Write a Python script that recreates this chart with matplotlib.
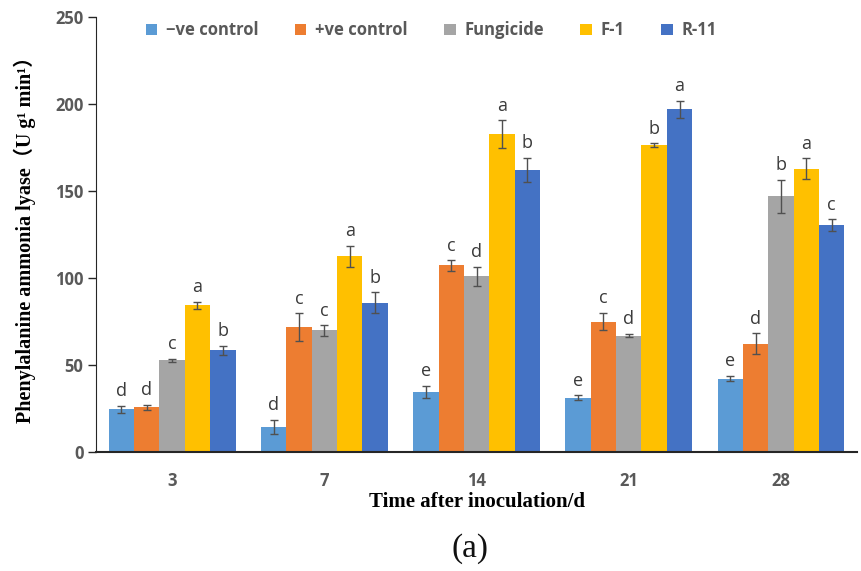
import numpy as np
import matplotlib.pyplot as plt

days = ["3", "7", "14", "21", "28"]
groups = ["\u2212ve control", "+ve control", "Fungicide", "F-1", "R-11"]
colors = ["#5B9BD5", "#ED7D31", "#A5A5A5", "#FFC000", "#4472C4"]

neg_ctrl = [24.5, 14.4, 34.3, 31.0, 42.0]
pos_ctrl = [25.5, 71.5, 107.2, 74.8, 62.0]
fungicide = [52.5, 69.8, 100.8, 66.8, 147.0]
f1 = [84.3, 112.5, 182.7, 176.5, 162.7]
r11 = [58.3, 85.8, 162.0, 197.0, 130.3]

neg_err = [2.0, 4.0, 3.5, 1.5, 1.5]
pos_err = [1.5, 8.0, 3.0, 5.0, 6.0]
fung_err = [1.0, 3.0, 5.5, 1.0, 9.5]
f1_err = [2.0, 6.0, 8.0, 1.0, 6.0]
r11_err = [2.5, 6.0, 7.0, 5.0, 3.5]

neg_let = ["d", "d", "e", "e", "e"]
pos_let = ["d", "c", "c", "c", "d"]
fung_let = ["c", "c", "d", "d", "b"]
f1_let = ["a", "a", "a", "b", "a"]
r11_let = ["b", "b", "b", "a", "c"]

values = [neg_ctrl, pos_ctrl, fungicide, f1, r11]
errors = [neg_err, pos_err, fung_err, f1_err, r11_err]
letters = [neg_let, pos_let, fung_let, f1_let, r11_let]

fig = plt.figure(figsize=(8.61, 5.71), dpi=100)
ax = fig.add_axes([0.1115, 0.209, 0.884, 0.761])

x = np.arange(len(days))
w = 1 / 6
for i in range(5):
    pos = x + (i - 2) * w
    ax.bar(pos, values[i], w, color=colors[i], label=groups[i],
           yerr=errors[i], capsize=3,
           error_kw=dict(ecolor="#505050", elinewidth=1, capthick=1))
    for p, v, e, t in zip(pos, values[i], errors[i], letters[i]):
        ax.annotate(t, (p, v + e), xytext=(0, 4), textcoords="offset points",
                    ha="center", va="bottom", fontsize=13,
                    color="#3a3a3a", family="Open Sans")

ax.set_xlim(-0.5, len(days) - 0.5)
ax.set_ylim(0, 250)
ax.set_yticks([0, 50, 100, 150, 200, 250])
ax.set_xticks(x)
ax.set_xticklabels(days)
for lab in ax.get_xticklabels() + ax.get_yticklabels():
    lab.set_family("Open Sans")
    lab.set_fontweight("bold")
    lab.set_fontsize(12)
    lab.set_color("#595959")
ax.tick_params(axis="x", length=0, pad=15)
ax.tick_params(axis="y", length=6, width=1, color="#262626", pad=3)
ax.spines["top"].set_visible(False)
ax.spines["right"].set_visible(False)
ax.spines["left"].set_color("#262626")
ax.spines["bottom"].set_color("#262626")
ax.spines["bottom"].set_linewidth(1.5)

ax.set_ylabel("Phenylalanine ammonia lyase\uff08U g\u00b9 min\u00b9\uff09",
              family=["Liberation Serif", "Noto Sans CJK SC"],
              fontweight="bold", fontsize=14.5, labelpad=14)
ax.set_xlabel("Time after inoculation/d", family="Liberation Serif",
              fontweight="bold", fontsize=15, labelpad=1)

leg = ax.legend(loc="upper center", bbox_to_anchor=(0.44, 1.025), ncol=5,
                frameon=False, handlelength=0.7, handleheight=0.7,
                columnspacing=2.2, handletextpad=0.5,
                prop=dict(family="Open Sans", weight="bold", size=12))
for t in leg.get_texts():
    t.set_color("#595959")

fig.text(0.5455, 0.012, "(a)", family="Liberation Serif", fontsize=24,
         ha="center", va="bottom", color="#111111")

fig.savefig("out.png", dpi=100)
